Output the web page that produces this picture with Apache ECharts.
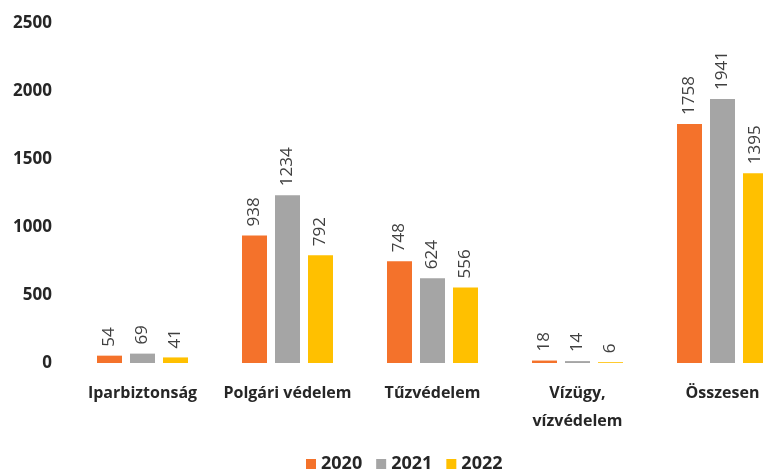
<!DOCTYPE html>
<html><head><meta charset="utf-8">
<script src="https://cdn.jsdelivr.net/npm/echarts@6/dist/echarts.min.js"></script>
<style>html,body{margin:0;padding:0;background:#fff}#c{width:763px;height:474px}</style>
</head><body><div id="c"></div>
<script>
const categories = ['Iparbiztonság', 'Polgári védelem', 'Tűzvédelem', 'Vízügy,\nvízvédelem', 'Összesen'];
const years = ['2020', '2021', '2022'];
const v2020 = [54, 938, 748, 18, 1758];
const v2021 = [69, 1234, 624, 14, 1941];
const v2022 = [41, 792, 556, 6, 1395];
const yTicks = [0, 500, 1000, 1500, 2000, 2500];
const colors = ['#F4722B', '#A5A5A5', '#FFC000'];

const chart = echarts.init(document.getElementById('c'));
const font = '"Open Sans", "Liberation Sans", sans-serif';
const mk = (name, data, i) => ({
  name, type: 'bar', data, barWidth: 25, barGap: '32%',
  itemStyle: { color: colors[i] },
  label: { show: true, position: 'top', rotate: 90, align: 'left', verticalAlign: 'middle',
    distance: 9, color: '#404040', fontSize: 17, fontFamily: font }
});
chart.setOption({
  animation: false,
  textStyle: { fontFamily: font },
  grid: { left: 70, width: 725, top: 23, bottom: 111, containLabel: false, outerBoundsMode: 'none' },
  legend: { bottom: -4, left: 301, itemWidth: 10, itemHeight: 10, itemGap: 14,
    icon: 'rect', textStyle: { fontSize: 18, fontWeight: 'bold', color: '#262626', fontFamily: font },
    data: years },
  xAxis: { type: 'category', data: categories, axisLine: { show: false }, axisTick: { show: false },
    axisLabel: { fontSize: 16, fontWeight: 'bold', color: '#262626', margin: 16, lineHeight: 28, interval: 0 } },
  yAxis: { type: 'value', min: yTicks[0], max: yTicks[yTicks.length - 1], interval: 500,
    splitLine: { show: false }, axisLine: { show: false }, axisTick: { show: false },
    axisLabel: { fontSize: 17, fontWeight: 'bold', color: '#262626', margin: 18, formatter: v => String(v) } },
  series: [mk(years[0], v2020, 0), mk(years[1], v2021, 1), mk(years[2], v2022, 2)]
});
</script></body></html>
